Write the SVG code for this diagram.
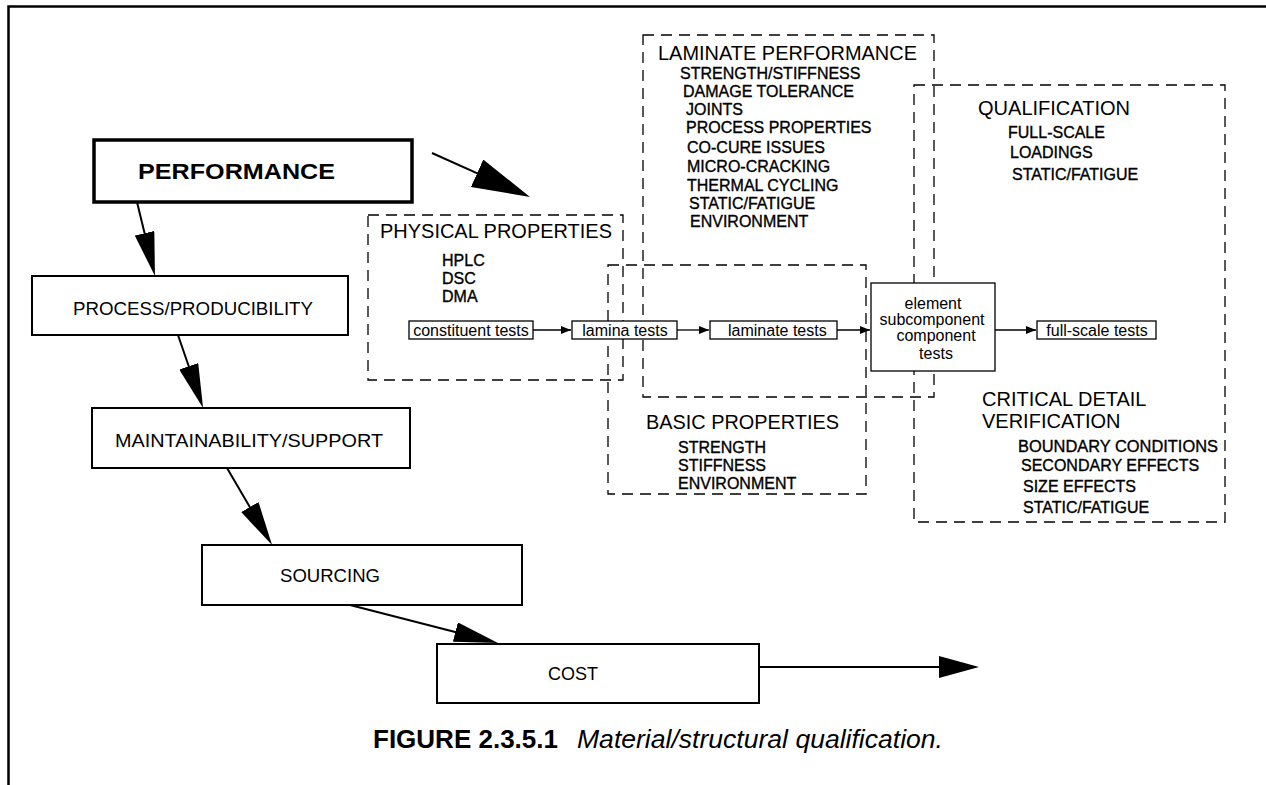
<svg xmlns="http://www.w3.org/2000/svg" width="1266" height="785" viewBox="0 0 1266 785">
<style>
text{font-family:"Liberation Sans",Arial,Helvetica,sans-serif;fill:#000}
.lbl{font-size:18.5px}
.hd{font-size:20px}
.it{font-size:16px;stroke:#000;stroke-width:0.35}
.tt{font-size:16px}
.box{fill:#fff;stroke:#000;stroke-width:2}
.tbox{fill:#fff;stroke:#000;stroke-width:1.3}
.dash{fill:none;stroke:#000;stroke-width:1.3;stroke-dasharray:11 7}
.flow{stroke:#000;stroke-width:2;fill:none}
.thin{stroke:#000;stroke-width:1.3;fill:none}
</style>
<defs>
<marker id="ah" markerUnits="userSpaceOnUse" viewBox="0 0 44 20" markerWidth="44" markerHeight="20" refX="34" refY="10" orient="auto"><path d="M0,0 L44,10 L0,20 z" fill="#000"/></marker>
<marker id="ahXL" markerUnits="userSpaceOnUse" viewBox="0 0 58 30" markerWidth="58" markerHeight="30" refX="48" refY="15" orient="auto"><path d="M0,0 L58,15 L0,30 z" fill="#000"/></marker>
<marker id="ahC" markerUnits="userSpaceOnUse" viewBox="0 0 40 22" markerWidth="40" markerHeight="22" refX="30" refY="11" orient="auto"><path d="M0,0 L40,11 L0,22 z" fill="#000"/></marker>
<marker id="ahS" markerUnits="userSpaceOnUse" viewBox="0 0 10 8" markerWidth="10" markerHeight="8" refX="10" refY="4" orient="auto"><path d="M0,0 L10,4 L0,8 z" fill="#000"/></marker>
</defs>
<rect width="1266" height="785" fill="#fff"/>
<g id="frame"><path d="M8.5,785 L8.5,6.5 L1266,6.5" fill="none" stroke="#000" stroke-width="2.5"/></g>

<g id="physical-properties">
<rect class="dash" x="368" y="215" width="255" height="165"/>
<text class="hd" x="380" y="238" textLength="232" lengthAdjust="spacingAndGlyphs">PHYSICAL PROPERTIES</text>
<text class="it" x="442" y="266">HPLC</text>
<text class="it" x="442" y="284">DSC</text>
<text class="it" x="442" y="302">DMA</text>
</g>

<g id="laminate-performance">
<rect class="dash" x="643" y="35" width="291" height="362"/>
<text class="hd" x="658" y="60" textLength="259" lengthAdjust="spacingAndGlyphs">LAMINATE PERFORMANCE</text>
<text class="it" x="680" y="79">STRENGTH/STIFFNESS</text>
<text class="it" x="683" y="97">DAMAGE TOLERANCE</text>
<text class="it" x="686" y="115">JOINTS</text>
<text class="it" x="686" y="133">PROCESS PROPERTIES</text>
<text class="it" x="687" y="153">CO-CURE ISSUES</text>
<text class="it" x="687" y="172">MICRO-CRACKING</text>
<text class="it" x="687" y="191">THERMAL CYCLING</text>
<text class="it" x="689" y="209">STATIC/FATIGUE</text>
<text class="it" x="690" y="227">ENVIRONMENT</text>
</g>

<g id="basic-properties">
<rect class="dash" x="608" y="265" width="258" height="229"/>
<text class="hd" x="646" y="429" textLength="193" lengthAdjust="spacingAndGlyphs">BASIC PROPERTIES</text>
<text class="it" x="678" y="453">STRENGTH</text>
<text class="it" x="678" y="471">STIFFNESS</text>
<text class="it" x="678" y="489">ENVIRONMENT</text>
</g>

<g id="qualification">
<rect class="dash" x="914" y="85" width="311" height="437"/>
<text class="hd" x="978" y="115" textLength="152" lengthAdjust="spacingAndGlyphs">QUALIFICATION</text>
<text class="it" x="1008" y="138">FULL-SCALE</text>
<text class="it" x="1010" y="158">LOADINGS</text>
<text class="it" x="1012" y="180">STATIC/FATIGUE</text>
<text class="hd" x="982" y="406">CRITICAL DETAIL</text>
<text class="hd" x="982" y="428">VERIFICATION</text>
<text class="it" x="1018" y="452" textLength="200" lengthAdjust="spacingAndGlyphs">BOUNDARY CONDITIONS</text>
<text class="it" x="1021" y="471">SECONDARY EFFECTS</text>
<text class="it" x="1023" y="492">SIZE EFFECTS</text>
<text class="it" x="1023" y="513">STATIC/FATIGUE</text>
</g>

<g id="constituent-tests">
<rect class="tbox" x="409" y="321" width="124" height="18"/>
<text class="tt" x="471" y="335.5" text-anchor="middle">constituent tests</text>
</g>
<g id="lamina-tests">
<rect class="tbox" x="572" y="321" width="105" height="18"/>
<text class="tt" x="625" y="335.5" text-anchor="middle">lamina tests</text>
</g>
<g id="laminate-tests">
<rect class="tbox" x="710" y="321" width="127" height="18"/>
<text class="tt" x="728" y="335.5">laminate tests</text>
</g>
<g id="element-tests">
<rect class="tbox" x="871" y="283" width="124" height="88"/>
<text class="tt" x="933" y="309" text-anchor="middle">element</text>
<text class="tt" x="932" y="325" text-anchor="middle">subcomponent</text>
<text class="tt" x="936" y="341" text-anchor="middle">component</text>
<text class="tt" x="936" y="359" text-anchor="middle">tests</text>
</g>
<g id="full-scale-tests">
<rect class="tbox" x="1037" y="321" width="119" height="18"/>
<text class="tt" x="1097" y="335.5" text-anchor="middle">full-scale tests</text>
</g>

<g id="performance">
<rect x="94" y="140" width="318" height="62" fill="#fff" stroke="#000" stroke-width="3.5"/>
<text x="236.5" y="178.5" text-anchor="middle" font-size="22" font-weight="bold" textLength="197" lengthAdjust="spacingAndGlyphs">PERFORMANCE</text>
</g>
<g id="process-producibility">
<rect class="box" x="32" y="276" width="316" height="59"/>
<text class="lbl" x="193" y="315" text-anchor="middle" textLength="240" lengthAdjust="spacingAndGlyphs">PROCESS/PRODUCIBILITY</text>
</g>
<g id="maintainability-support">
<rect class="box" x="92" y="408" width="318" height="60"/>
<text class="lbl" x="249" y="447" text-anchor="middle" textLength="268" lengthAdjust="spacingAndGlyphs">MAINTAINABILITY/SUPPORT</text>
</g>
<g id="sourcing">
<rect class="box" x="202" y="545" width="320" height="60"/>
<text class="lbl" x="280" y="582" textLength="100" lengthAdjust="spacingAndGlyphs">SOURCING</text>
</g>
<g id="cost">
<rect class="box" x="437" y="644" width="322" height="59"/>
<text class="lbl" x="548" y="680" textLength="50" lengthAdjust="spacingAndGlyphs">COST</text>
</g>

<g id="connectors">
<line class="flow" x1="137" y1="202" x2="152.6" y2="266.3" marker-end="url(#ah)"/>
<line class="flow" x1="178" y1="335" x2="199.8" y2="398.5" marker-end="url(#ah)"/>
<line class="flow" x1="227" y1="468" x2="267" y2="536.4" marker-end="url(#ah)"/>
<line class="flow" x1="350" y1="605" x2="488.3" y2="640.5" marker-end="url(#ah)"/>
<line class="flow" x1="432" y1="153" x2="520.9" y2="192.9" marker-end="url(#ahXL)"/>
<line class="flow" x1="759" y1="667" x2="969" y2="667" marker-end="url(#ahC)"/>
<line class="thin" x1="533" y1="330" x2="571" y2="330" marker-end="url(#ahS)"/>
<line class="thin" x1="677" y1="330" x2="709" y2="330" marker-end="url(#ahS)"/>
<line class="thin" x1="837" y1="330" x2="870" y2="330" marker-end="url(#ahS)"/>
<line class="thin" x1="995" y1="330" x2="1036" y2="330" marker-end="url(#ahS)"/>
</g>

<g id="caption">
<text x="373" y="748" font-size="25" font-weight="bold" textLength="185" lengthAdjust="spacingAndGlyphs">FIGURE 2.3.5.1</text>
<text x="577" y="748" font-size="25" font-style="italic" textLength="366" lengthAdjust="spacingAndGlyphs">Material/structural qualification.</text>
</g>
</svg>
